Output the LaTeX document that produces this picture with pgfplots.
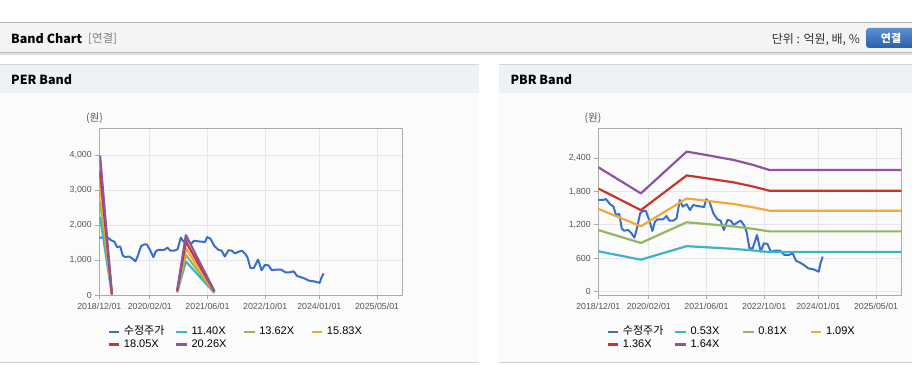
\documentclass[border=0pt]{standalone}
\usepackage{pgfplots}
\pgfplotsset{compat=1.18}
\usepackage{pgfplotstable}
\usepackage{fontspec}
\setmainfont{Liberation Sans}
\newfontfamily\kr{Noto Sans CJK KR}
\definecolor{cprice}{HTML}{3A6FC9}
\definecolor{cteal}{HTML}{3CB3C6}
\definecolor{cgreen}{HTML}{96B65C}
\definecolor{corange}{HTML}{F2A93B}
\definecolor{cred}{HTML}{C8362B}
\definecolor{cpurple}{HTML}{8B559F}
\definecolor{tickgray}{HTML}{555555}
\definecolor{axisgray}{HTML}{ABABAB}
\definecolor{gridgray}{HTML}{E6E6E6}
\definecolor{hdrgray}{HTML}{F4F4F4}
\definecolor{panelhdr}{HTML}{EEF2F7}
\definecolor{panelbody}{HTML}{FBFBFB}
\definecolor{btntop}{HTML}{5B8FD3}
\definecolor{btnbot}{HTML}{2C60A6}

\pgfplotstableread{
m v
0 1649
1.4 1649
2.1 1667
3.2 1577
4.2 1529
4.9 1378
5.8 1396
6.5 1137
7.1 1095
8.3 1107
9.2 1047
10.0 969
10.6 1107
11.6 1408
12.5 1456
13.2 1450
14.1 1288
15.0 1089
15.7 1258
16.4 1300
18.0 1300
18.9 1360
19.7 1276
20.8 1276
21.7 1318
22.6 1649
23.4 1529
24.5 1571
25.4 1468
26.3 1559
27.4 1541
28.7 1529
29.3 1517
29.9 1661
30.8 1619
31.9 1408
33.0 1300
33.9 1276
34.8 1107
35.8 1288
36.7 1276
37.6 1198
38.5 1240
39.5 1276
40.5 1180
41.1 1077
41.9 776
42.8 776
44.0 1017
45.0 716
45.9 867
46.9 855
47.8 716
49.0 734
50.4 734
51.6 656
52.8 656
53.9 686
54.8 554
55.9 518
57.0 475
58.2 415
59.6 397
60.5 373
61.1 355
61.6 506
62.2 626
}\price

\pgfplotstableread{
m teal green orange red purple
0.2 2246 2683 3119 3556 3992
3.5 17 20 24 27 30
nan nan nan nan nan nan
21.6 80 95 111 126 142
24.0 967 1155 1342 1531 1718
31.9 68 82 95 108 122
}\perband

\pgfplotstableread{
m teal green orange red purple
0 723 1106 1488 1856 2239
11.8 571 873 1175 1466 1768
24.5 815 1246 1676 2092 2522
30 795 1215 1635 2040 2460
37.5 766 1171 1576 1967 2371
43 737 1126 1515 1890 2280
47.4 708 1082 1456 1817 2191
84 708 1082 1456 1817 2191
}\pbrband

\pgfplotsset{
  bandaxis/.style={
    scale only axis, width=303pt, height=167pt,
    xmin=0, xmax=84,
    xtick={0,14,30,46,61,77},
    xticklabels={2018/12/01,2020/02/01,2021/06/01,2022/10/01,2024/01/01,2025/05/01},
    tick align=outside, tick pos=left,
    major tick length=4pt,
    every tick/.style={axisgray, line width=0.8pt},
    axis line style={axisgray, line width=1.2pt},
    grid=major, major grid style={gridgray, line width=0.8pt},
    ticklabel style={font=\fontsize{8.8}{10}\selectfont, text=tickgray},
    /pgf/number format/1000 sep={,},
    /pgf/number format/assume math mode=true,
    scaled y ticks=false,
    unbounded coords=jump,
    legend columns=4,
    legend cell align=left,
    legend style={at={(0.0264,-0.185)}, anchor=north west, draw=none, fill=none,
      inner sep=0pt, row sep=1.8pt, font=\fontsize{11}{12}\selectfont,
      nodes={inner sep=0pt, text height=8.3pt, text depth=2.5pt}},
    legend image code/.code={\draw[#1, line width=2.5pt] (0pt,0pt) -- (10.5pt,0pt);},
  },
  bandline/.style={line width=2.2pt, line join=round},
  priceline/.style={cprice, line width=2pt, line join=round},
}

\newcommand{\lent}[1]{\makebox[54.7pt][l]{\hspace{3.4pt}#1}}

\begin{document}
\begin{tikzpicture}
\path[use as bounding box] (0pt,0pt) rectangle (912pt,364pt);
\begin{scope}[x=1pt,y=1pt]
\fill[white] (0,0) rectangle (912,364);
% header bar
\fill[hdrgray] (0,311) rectangle (912,341.5);
\draw[color=black!30, line width=1pt] (0,341.5) -- (912,341.5);
\draw[color=black!12, line width=2pt] (0,309.5) -- (912,309.5);
\draw[color=black!26, line width=1pt] (0,311) -- (912,311);
\node[anchor=base west, inner sep=0pt] at (11,320.7) {\kr\bfseries\fontsize{12.5}{14}\selectfont Band Chart};
\node[anchor=base west, inner sep=0pt, text=black!50] at (88,321) {\kr\fontsize{11.5}{13}\selectfont [연결]};
\node[anchor=base east, inner sep=0pt, text=black!80] at (860,320.7) {\kr\fontsize{12}{14}\selectfont 단위 : 억원, 배, \%};
\shade[top color=btntop, bottom color=btnbot, rounded corners=3pt] (866,316) rectangle (918,336);
\node[text=white, inner sep=0pt] at (891,326) {\kr\bfseries\fontsize{11}{13}\selectfont 연결};
% panels
\foreach \xa/\xb in {0/479, 499/912} {
  \fill[panelbody] (\xa,2) rectangle (\xb,271.3);
  \fill[panelhdr] (\xa,271.3) rectangle (\xb,299.5);
  \draw[color=black!16, line width=1pt] (\xa,299.8) -- (\xb,299.8);
  \draw[color=black!18, line width=1pt] (\xa,1.7) -- (\xb,1.7);
}
\node[anchor=base west, inner sep=0pt] at (11,279) {\kr\bfseries\fontsize{12.5}{14}\selectfont PER Band};
\node[anchor=base west, inner sep=0pt] at (510.3,279) {\kr\bfseries\fontsize{12.5}{14}\selectfont PBR Band};
\node[text=tickgray, inner sep=0pt] at (94.5,245.7) {\kr\fontsize{10.5}{12}\selectfont (원)};
\node[text=tickgray, inner sep=0pt] at (593,245.7) {\kr\fontsize{10.5}{12}\selectfont (원)};
\end{scope}

% PER axis
\begin{axis}[bandaxis, at={(99.3pt,68.7pt)}, anchor=south west,
  ymin=0, ymax=4771, ytick={0,1000,2000,3000,4000}]
\addplot[priceline] table[x=m,y=v]{\price};
\addlegendentry{\lent{\kr 수정주가}}
\addplot[cteal, bandline] table[x=m,y=teal]{\perband};
\addlegendentry{\lent{11.40X}}
\addplot[cgreen, bandline] table[x=m,y=green]{\perband};
\addlegendentry{\lent{13.62X}}
\addplot[corange, bandline] table[x=m,y=orange]{\perband};
\addlegendentry{\lent{15.83X}}
\addplot[cred, bandline] table[x=m,y=red]{\perband};
\addlegendentry{\lent{18.05X}}
\addplot[cpurple, bandline] table[x=m,y=purple]{\perband};
\addlegendentry{\lent{20.26X}}
\end{axis}

% PBR axis
\begin{axis}[bandaxis, at={(598.3pt,68.7pt)}, anchor=south west,
  ymin=-72, ymax=2943, ytick={0,600,1200,1800,2400}]
\addplot[priceline] table[x=m,y=v]{\price};
\addlegendentry{\lent{\kr 수정주가}}
\addplot[cteal, bandline] table[x=m,y=teal]{\pbrband};
\addlegendentry{\lent{0.53X}}
\addplot[cgreen, bandline] table[x=m,y=green]{\pbrband};
\addlegendentry{\lent{0.81X}}
\addplot[corange, bandline] table[x=m,y=orange]{\pbrband};
\addlegendentry{\lent{1.09X}}
\addplot[cred, bandline] table[x=m,y=red]{\pbrband};
\addlegendentry{\lent{1.36X}}
\addplot[cpurple, bandline] table[x=m,y=purple]{\pbrband};
\addlegendentry{\lent{1.64X}}
\end{axis}
\end{tikzpicture}
\end{document}
